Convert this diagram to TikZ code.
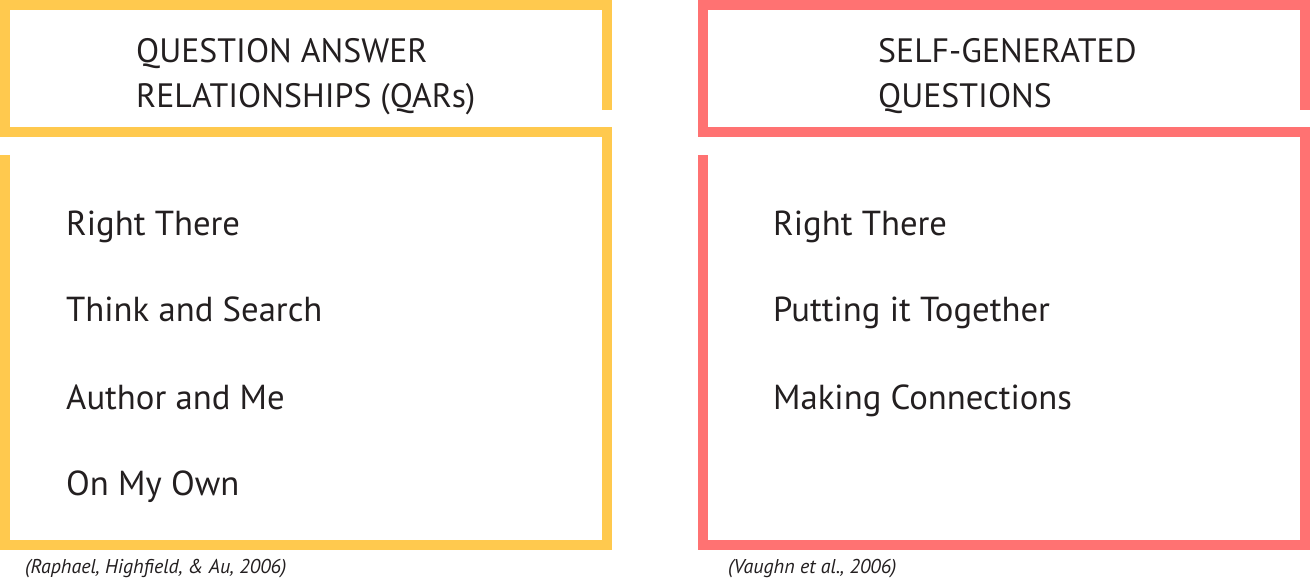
\documentclass[tikz,border=0pt]{standalone}
\usepackage{fontspec}
\setmainfont{PT Sans}
\definecolor{qyellow}{HTML}{FFC94E}
\definecolor{qcoral}{HTML}{FF7272}
\definecolor{qtext}{HTML}{231F20}
\begin{document}
\begin{tikzpicture}[x=1pt,y=-1pt,
  frame/.style={line width=10pt,line cap=butt,line join=miter},
  hdr/.style={anchor=base west,inner sep=0pt,text=qtext,font=\fontsize{33.8}{40}\selectfont},
  item/.style={anchor=base west,inner sep=0pt,text=qtext,font=\fontsize{34.7}{40}\selectfont},
  cite/.style={anchor=base west,inner sep=0pt,text=qtext,font=\itshape\fontsize{20}{24}\selectfont}]
\useasboundingbox (0,0) rectangle (1310,580);
% left panel
\draw[frame,qyellow] (607,110) -- (607,5) -- (5,5) -- (5,137);
\draw[frame,qyellow] (0,132) -- (607,132) -- (607,545) -- (5,545) -- (5,155);
% right panel
\draw[frame,qcoral] (1305,110) -- (1305,5) -- (703,5) -- (703,137);
\draw[frame,qcoral] (698,132) -- (1305,132) -- (1305,545) -- (703,545) -- (703,155);
% headers
\node[hdr] (h1a) at (136,63) {QUESTION ANSWER};
\node[hdr] (h1b) at (136,108) {RELATIONSHIPS (QARs)};
\node[hdr] (h2a) at (878,63) {SELF-GENERATED};
\node[hdr] (h2b) at (878,108) {QUESTIONS};
% left items
\node[item] (l1) at (66,236) {Right There};
\node[item] (l2) at (66,322) {Think and Search};
\node[item] (l3) at (66,409) {Author and Me};
\node[item] (l4) at (66,495) {On My Own};
% right items
\node[item] (r1) at (773,236) {Right There};
\node[item] (r2) at (773,322) {Putting it Together};
\node[item] (r3) at (773,409) {Making Connections};
% citations
\node[cite] (c1) at (25,573) {(Raphael, Highfield, \& Au, 2006)};
\node[cite] (c2) at (728,573) {(Vaughn et al., 2006)};
\end{tikzpicture}
\end{document}
